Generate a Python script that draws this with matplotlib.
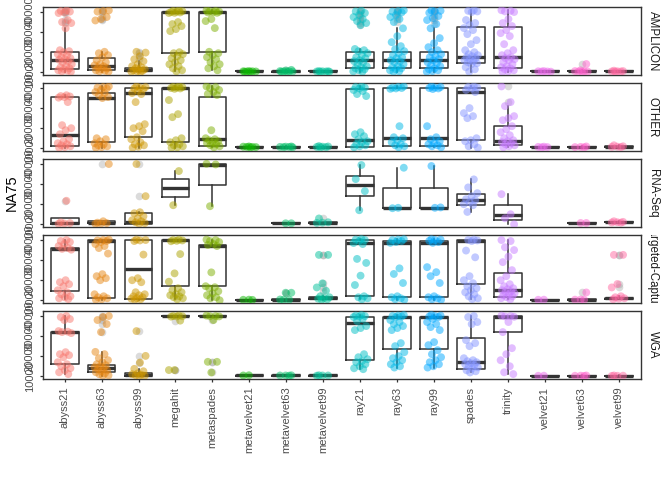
import numpy as np
import matplotlib
matplotlib.use('Agg')
import matplotlib.pyplot as plt

plt.rcParams['font.family'] = ['Liberation Sans', 'DejaVu Sans']

assemblers = ["abyss21", "abyss63", "abyss99", "megahit", "metaspades",
              "metavelvet21", "metavelvet63", "metavelvet99", "ray21", "ray63",
              "ray99", "spades", "trinity", "velvet21", "velvet63", "velvet99"]
facets = ["AMPLICON", "OTHER", "RNA-Seq", "Targeted-Capture", "WGA"]
colors = ["#F8766D", "#E68613", "#CD9600", "#ABA300", "#7CAE00", "#0CB702",
          "#00BE67", "#00C19A", "#00BFC4", "#00B8E7", "#00A9FF", "#8494FF",
          "#C77CFF", "#ED68ED", "#FF61CC", "#FF68A1"]

# NA75 values in thousands, one list per assembler
amplicon_pts = [
    [40.8, 40.5, 40.2, 39.8, 39.5, 36.0, 35.0, 34.5, 31.9, 21.0, 20.5, 20.0, 19.0, 18.5, 17.5, 17.0,
     16.5, 16.2, 15.5, 15.0, 14.0, 13.0, 12.5, 12.0, 11.5, 11.0, 10.8, 10.5, 10.3],
    [40.8, 40.5, 40.2, 37.5, 36.5, 35.8, 20.2, 19.5, 18.5, 17.5, 16.0, 15.0, 14.0, 13.5, 13.0, 12.5,
     12.0, 11.5, 11.0, 10.8, 10.5, 10.3],
    [20.2, 19.8, 18.0, 16.5, 15.5, 14.0, 13.0, 12.5, 12.0, 11.5, 11.2, 11.0, 10.8, 10.5, 10.3, 10.2],
    [40.8, 40.6, 40.4, 40.2, 40.0, 39.8, 39.6, 39.5, 35.0, 34.0, 33.0, 31.5, 30.5, 20.0, 19.5, 19.0,
     18.0, 17.0, 16.0, 15.0, 14.0, 13.0, 12.0, 11.0, 10.5],
    [40.8, 40.6, 40.4, 40.2, 40.0, 39.8, 39.6, 36.5, 35.5, 32.0, 20.2, 19.5, 18.5, 17.5, 16.5, 15.0,
     14.0, 13.0, 12.0, 11.0],
    [10.6, 10.5, 10.5, 10.4, 10.4, 10.3, 10.3],
    [11.2, 10.9, 10.6, 10.5, 10.4, 10.4, 10.3, 10.3],
    [10.6, 10.5, 10.5, 10.4, 10.4, 10.3, 10.3],
    [40.7, 40.3, 39.5, 38.5, 37.5, 36.5, 35.5, 34.5, 33.5, 21.6, 21.0, 20.5, 19.5, 18.5, 17.5, 17.0,
     16.0, 15.5, 15.0, 14.0, 13.0, 12.5, 12.0, 11.5, 11.0, 10.5, 10.3],
    [40.8, 40.5, 40.2, 39.8, 38.5, 37.5, 36.5, 35.0, 31.9, 28.0, 25.0, 23.0, 21.5, 20.5, 19.5, 18.5,
     17.5, 17.0, 16.0, 15.5, 15.0, 14.0, 13.0, 12.5, 12.0, 11.5, 11.0, 10.5, 10.3],
    [40.8, 40.6, 40.3, 39.6, 38.0, 37.0, 36.0, 34.0, 31.9, 27.0, 24.5, 22.5, 21.0, 20.0, 19.0, 18.0,
     17.5, 16.5, 16.0, 15.0, 14.5, 13.5, 13.0, 12.0, 11.5, 11.0, 10.6, 10.3],
    [40.9, 40.6, 40.3, 40.0, 36.0, 34.5, 33.5, 32.0, 31.0, 29.0, 26.0, 24.0, 21.0, 20.0, 19.0, 18.5,
     18.0, 17.5, 17.0, 16.5, 16.0, 15.5, 15.0, 14.5, 14.0, 12.5, 11.5, 10.3],
    [40.9, 40.6, 40.3, 40.0, 36.5, 34.5, 33.0, 31.0, 29.5, 28.0, 24.0, 21.0, 19.5, 18.5, 17.5, 17.0,
     16.5, 16.0, 15.0, 14.0, 13.0, 12.5, 12.0, 11.5, 11.0, 10.5, 10.3],
    [10.6, 10.5, 10.4, 10.4, 10.3],
    [14.1, 11.0, 10.6, 10.5, 10.4, 10.4, 10.3],
    [10.8, 10.6, 10.5, 10.4, 10.4, 10.3],
]
# (whisker low, q1, median, q3, whisker high)
amplicon_box = [
    (10.3, 11.5, 16.3, 20.3, 31.9), (10.3, 11.15, 13.1, 17.3, 20.2), (10.2, 10.5, 11.3, 12.3, 15.5),
    (10.5, 19.75, 39.9, 40.1, 40.8), (11.0, 20.25, 40.0, 40.2, 40.8), (10.3, 10.4, 10.45, 10.5, 10.6),
    (10.3, 10.35, 10.45, 10.55, 10.9), (10.3, 10.4, 10.45, 10.5, 10.6), (10.3, 12.0, 16.1, 20.25, 21.6),
    (10.3, 12.0, 16.1, 20.25, 31.9), (10.3, 12.0, 16.1, 20.25, 31.9), (10.3, 14.8, 17.5, 32.4, 40.9),
    (10.3, 12.3, 17.5, 32.4, 40.9), (10.3, 10.4, 10.45, 10.5, 10.6), (10.3, 10.4, 10.45, 10.55, 11.0),
    (10.3, 10.4, 10.45, 10.55, 10.8),
]

other_pts = [
    [36.4, 36.0, 35.8, 35.5, 35.2, 33.0, 21.5, 20.0, 19.0, 17.0, 14.5, 13.5, 12.5, 12.0, 11.5, 11.0,
     10.6, 10.3],
    [40.8, 40.5, 40.2, 39.8, 39.0, 38.0, 37.5, 36.5, 35.5, 35.0, 15.0, 14.5, 13.5, 12.5, 12.0, 11.5,
     11.0, 10.6, 10.3],
    [40.8, 40.5, 40.2, 39.8, 39.5, 38.5, 37.5, 37.0, 33.0, 22.0, 21.0, 20.0, 18.5, 15.5, 14.5, 13.0,
     12.0, 11.5, 10.8, 10.3],
    [40.8, 40.6, 40.4, 40.2, 40.0, 39.8, 39.6, 34.0, 27.0, 25.5, 15.0, 14.0, 13.0, 12.0, 11.5, 11.0,
     10.5, 10.3],
    [40.8, 40.5, 40.0, 39.0, 38.0, 37.0, 36.5, 19.0, 15.0, 14.5, 14.0, 13.5, 13.0, 12.5, 12.0, 11.5,
     11.0, 10.5],
    [10.9, 10.8, 10.7, 10.7, 10.6, 10.5],
    [10.9, 10.8, 10.7, 10.7, 10.6, 10.5],
    [11.1, 10.9, 10.8, 10.7, 10.6, 10.5],
    [40.8, 40.5, 40.2, 39.8, 39.0, 38.5, 37.0, 36.0, 18.0, 17.0, 16.0, 14.5, 13.5, 13.0, 12.0, 11.5,
     11.0, 10.5],
    [40.8, 40.5, 40.2, 40.0, 39.8, 39.6, 21.0, 15.5, 15.0, 14.0, 13.0, 12.0, 11.5, 11.0, 10.5],
    [40.8, 40.5, 40.2, 40.0, 39.8, 39.5, 21.0, 15.5, 14.5, 13.5, 12.5, 12.0, 11.5, 11.0, 10.5],
    [40.8, 40.5, 40.2, 39.8, 39.0, 38.0, 30.0, 27.5, 26.0, 25.0, 15.0, 14.0, 13.5, 12.0, 11.0, 10.3],
    [40.8, 33.0, 31.0, 26.0, 25.0, 24.0, 21.0, 19.5, 18.0, 16.5, 15.0, 14.0, 13.5, 13.0, 12.5, 12.0,
     11.5, 11.0, 10.5],
    [10.8, 10.7, 10.6, 10.5],
    [10.9, 10.7, 10.6, 10.5],
    [11.5, 11.0, 10.8, 10.7, 10.6],
]
other_box = [
    (10.3, 11.15, 16.8, 35.7, 36.4), (10.3, 13.3, 35.2, 37.7, 40.8), (10.3, 15.8, 37.7, 39.85, 40.8),
    (10.3, 13.3, 39.85, 40.1, 40.8), (10.5, 11.3, 14.8, 35.5, 40.8), (10.5, 10.6, 10.7, 10.8, 10.9),
    (10.5, 10.6, 10.7, 10.8, 10.9), (10.5, 10.6, 10.75, 10.85, 11.1), (10.5, 10.8, 14.1, 39.35, 40.8),
    (10.5, 11.3, 15.3, 40.0, 40.8), (10.5, 11.3, 15.3, 40.0, 40.8), (10.3, 14.1, 37.9, 40.0, 40.8),
    (10.5, 11.6, 13.8, 21.25, 31.0), (10.5, 10.55, 10.65, 10.75, 10.8), (10.5, 10.55, 10.65, 10.75, 10.9),
    (10.6, 10.7, 10.8, 11.0, 11.5),
]

rnaseq_pts = [
    [21.7, 11.0, 10.6, 10.4, 10.3],
    [40.0, 11.5, 10.8, 10.6, 10.4, 10.3],
    [40.0, 24.0, 16.0, 15.5, 14.0, 13.0, 12.0, 11.5, 11.0, 10.6, 10.3],
    [36.5, 19.5],
    [40.1, 39.8, 19.0],
    [],
    [10.5, 10.5],
    [12.9, 11.0, 10.8, 10.7],
    [39.5, 32.5, 26.5, 17.0],
    [38.15, 18.2, 18.0],
    [39.0, 18.4, 18.2],
    [32.35, 28.35, 25.5, 24.0, 22.5, 22.0, 21.0, 20.0, 19.5, 16.15],
    [25.0, 15.0, 13.0, 10.0],
    [],
    [10.65, 10.65],
    [11.5, 11.2, 11.0, 10.9, 10.8],
]
rnaseq_box = [
    (10.3, 10.3, 10.8, 13.3, 13.3), (10.3, 10.4, 10.7, 11.6, 11.6), (10.3, 10.35, 11.35, 15.65, 16.0),
    (19.5, 23.5, 28.15, 32.35, 36.5), (19.0, 29.5, 39.7, 40.0, 40.1), None,
    (10.45, 10.45, 10.5, 10.55, 10.55), (10.7, 10.75, 10.85, 11.0, 11.0), (17.0, 24.0, 29.5, 34.15, 39.5),
    (18.0, 18.15, 18.15, 28.15, 38.15), (18.2, 18.35, 18.35, 28.15, 39.0), (16.15, 19.5, 22.0, 25.0, 32.35),
    (10.0, 12.35, 14.85, 19.85, 25.0), None, (10.6, 10.6, 10.65, 10.7, 10.7),
    (10.8, 10.9, 11.0, 11.2, 11.5),
]

targeted_pts = [
    [40.0, 39.5, 39.0, 38.0, 37.0, 36.0, 35.6, 35.2, 20.0, 19.0, 18.0, 17.0, 15.0, 14.0, 13.0, 12.0,
     11.5, 11.0, 10.6],
    [40.2, 40.0, 39.8, 39.5, 39.0, 38.0, 37.0, 36.0, 33.25, 23.0, 22.0, 21.0, 20.0, 13.0, 12.0, 11.5,
     11.0, 10.5, 10.3],
    [40.2, 40.0, 39.8, 39.5, 32.75, 21.0, 20.0, 19.0, 14.0, 13.0, 12.5, 12.0, 11.5, 11.0, 10.8, 10.5,
     10.3],
    [40.2, 40.0, 39.8, 39.6, 39.4, 33.0, 23.4, 19.25, 16.0, 15.0, 14.0, 13.0, 12.5, 12.0, 11.5, 11.0,
     10.5],
    [40.2, 40.0, 39.5, 39.0, 38.0, 37.5, 37.0, 23.9, 17.0, 16.5, 16.0, 14.5, 13.5, 12.5, 11.5, 11.0,
     10.0],
    [10.3, 10.25, 10.2],
    [13.75, 13.75, 10.4, 10.3, 10.25],
    [32.6, 32.6, 18.4, 16.4, 14.75, 12.0, 11.5, 11.0, 10.8, 10.5, 10.3],
    [40.5, 40.2, 40.0, 39.5, 38.5, 38.0, 30.6, 28.6, 22.25, 17.6, 12.0, 11.5, 11.0, 10.5],
    [40.4, 40.2, 40.0, 39.5, 39.0, 38.6, 25.9, 23.1, 18.6, 12.0, 11.5, 11.0, 10.5, 10.3],
    [40.4, 40.2, 40.0, 39.6, 39.0, 38.6, 26.5, 24.0, 22.0, 18.6, 12.0, 11.5, 11.0, 10.5, 10.3],
    [40.2, 40.0, 39.8, 39.5, 34.75, 31.4, 22.0, 20.0, 18.5, 17.0, 16.0, 15.0, 14.0, 13.0, 12.0, 11.0,
     10.6],
    [40.0, 39.5, 36.4, 35.0, 31.75, 29.0, 25.0, 22.0, 20.0, 18.0, 17.0, 16.0, 15.5, 15.0, 14.5, 14.0,
     13.5, 13.0, 12.5, 12.0, 11.5, 11.0, 10.5],
    [10.3, 10.25],
    [13.9, 10.4, 10.3, 10.25],
    [32.6, 32.6, 18.1, 16.4, 12.0, 11.5, 11.0, 10.8, 10.5],
]
targeted_box = [
    (10.6, 14.75, 35.5, 35.9, 40.0), (10.3, 10.9, 39.4, 40.0, 40.2), (10.3, 10.6, 25.6, 40.0, 40.2),
    (10.5, 16.9, 39.8, 40.0, 40.2), (10.0, 16.9, 36.9, 37.6, 40.2), (10.2, 10.2, 10.25, 10.3, 10.3),
    (10.25, 10.25, 10.3, 10.4, 10.4), (10.3, 10.5, 10.9, 11.5, 12.0), (10.5, 11.9, 38.6, 40.0, 40.5),
    (10.3, 11.4, 38.6, 39.4, 40.4), (10.3, 11.4, 38.6, 39.4, 40.4), (10.6, 18.1, 39.75, 40.0, 40.2),
    (10.5, 11.75, 15.25, 23.6, 40.0), (10.25, 10.25, 10.25, 10.3, 10.3), (10.25, 10.25, 10.3, 10.4, 10.4),
    (10.5, 10.8, 10.9, 11.3, 12.0),
]

wga_pts = [
    [40.0, 39.5, 38.5, 38.0, 32.5, 32.2, 32.0, 31.5, 22.0, 21.0, 20.5, 19.5, 17.0, 16.0, 15.0, 14.0,
     13.0, 12.0, 11.1],
    [40.0, 39.5, 38.0, 36.0, 32.0, 22.15, 21.0, 19.0, 18.0, 17.0, 16.0, 15.5, 15.0, 14.5, 14.0, 13.5,
     13.0, 12.5, 12.0, 11.5, 11.0, 10.5, 10.3],
    [32.5, 20.15, 16.85, 13.7, 12.5, 11.5, 11.0, 10.8, 10.5, 10.3, 10.2],
    [40.2, 40.0, 39.9, 39.8, 39.7, 37.7, 13.1, 13.1],
    [40.2, 40.0, 39.9, 39.8, 38.0, 17.2, 17.2, 11.9],
    [10.5, 10.4],
    [10.5, 10.4, 10.4, 10.3],
    [10.5, 10.4, 10.4, 10.3],
    [40.5, 40.2, 40.0, 39.8, 39.5, 38.5, 37.5, 35.0, 34.0, 33.0, 21.0, 19.5, 18.5, 17.5, 17.0, 16.0,
     15.0, 14.0, 13.55],
    [40.5, 40.2, 40.0, 39.8, 39.5, 38.0, 37.0, 36.0, 35.0, 34.0, 33.0, 26.5, 25.0, 22.0, 20.0, 19.0,
     18.0, 17.0, 16.0, 15.0, 14.35],
    [40.5, 40.2, 40.0, 39.8, 39.5, 38.5, 37.0, 36.0, 34.5, 33.0, 27.0, 25.5, 23.0, 21.0, 19.5, 18.0,
     17.0, 16.0, 15.0, 14.35],
    [40.0, 39.5, 37.0, 36.0, 28.0, 26.5, 25.0, 19.0, 18.0, 17.5, 17.0, 16.5, 16.0, 15.5, 15.0, 14.5,
     14.0, 13.0, 12.5, 11.9],
    [40.2, 40.0, 39.8, 39.6, 37.0, 32.0, 24.0, 21.0, 18.0, 15.0, 12.0, 11.1],
    [10.3, 10.25],
    [10.4, 10.3, 10.25, 10.2],
    [10.4, 10.3, 10.25, 10.2],
]
wga_box = [
    (11.1, 16.0, 32.0, 32.2, 40.0), (10.3, 12.2, 14.05, 15.7, 22.15), (10.2, 10.2, 10.7, 11.6, 13.7),
    (39.7, 39.8, 39.85, 39.95, 40.2), (39.8, 39.8, 39.85, 39.95, 40.2), (10.35, 10.35, 10.4, 10.45, 10.5),
    (10.3, 10.35, 10.4, 10.45, 10.5), (10.3, 10.35, 10.4, 10.45, 10.5), (13.55, 18.05, 36.4, 39.65, 40.5),
    (14.35, 23.8, 39.5, 39.65, 40.5), (14.35, 23.8, 39.5, 39.65, 40.5), (11.9, 13.85, 17.35, 29.25, 40.0),
    (11.1, 32.2, 39.65, 40.0, 40.2), (10.25, 10.25, 10.25, 10.3, 10.3), (10.2, 10.2, 10.25, 10.3, 10.4),
    (10.2, 10.2, 10.25, 10.3, 10.4),
]

y_ticks = [10, 20, 30, 40]
panel_points = [amplicon_pts, other_pts, rnaseq_pts, targeted_pts, wga_pts]
panel_boxes = [amplicon_box, other_box, rnaseq_box, targeted_box, wga_box]

W, H = 672, 480
fig = plt.figure(figsize=(W / 100, H / 100), dpi=100, facecolor='white')

panel_left, panel_right = 42.5, 641.0
panel_tops = [7, 83, 159, 235, 311]
panel_h = 68
dark = '#333333'
positions = np.arange(1, len(assemblers) + 1)

for p, (pts, boxes) in enumerate(zip(panel_points, panel_boxes)):
    top = panel_tops[p]
    ax = fig.add_axes([panel_left / W, 1 - (top + panel_h) / H,
                       (panel_right - panel_left) / W, panel_h / H])
    ax.set_xlim(0.4, len(assemblers) + 0.6)
    ax.set_ylim(8.65, 42.5)

    # boxplots (outliers drawn as faint grey dots at the box centre)
    stats, pos = [], []
    for k, b in enumerate(boxes):
        if b is None:
            continue
        lo, q1, med, q3, hi = b
        fliers = [v for v in pts[k] if v < lo or v > hi]
        stats.append(dict(whislo=lo, q1=q1, med=med, q3=q3, whishi=hi, fliers=fliers))
        pos.append(positions[k])
    ax.bxp(stats, positions=pos, widths=0.75, showcaps=False, showfliers=True,
           boxprops=dict(color=dark, linewidth=1.1),
           whiskerprops=dict(color=dark, linewidth=1.1),
           medianprops=dict(color=dark, linewidth=2.4, solid_capstyle='butt'),
           flierprops=dict(marker='o', markerfacecolor='#9a9a9a', markeredgecolor='none',
                           markersize=5.5, alpha=0.35))

    # jittered points
    for k, vals in enumerate(pts):
        if not vals:
            continue
        n = len(vals)
        offs = (((np.arange(n) + 1) * 0.618034 + k * 0.37) % 1.0 - 0.5) * 0.4
        ax.scatter(positions[k] + offs, vals, s=32, color=colors[k], alpha=0.5,
                   edgecolors='none', zorder=3)

    for sp in ax.spines.values():
        sp.set_color(dark)
        sp.set_linewidth(1.0)
    ax.set_yticks(y_ticks)
    ax.set_yticklabels([str(t * 1000) for t in y_ticks])
    ax.tick_params(axis='y', length=2.5, width=0.9, color=dark, pad=3,
                   labelsize=8, labelcolor='#4D4D4D')
    for lab in ax.get_yticklabels():
        lab.set_rotation(90)
        lab.set_va('center')
        lab.set_ha('right')
    ax.set_xticks(positions)
    if p == len(facets) - 1:
        ax.set_xticklabels(assemblers, rotation=90, ha='center', va='top')
        ax.tick_params(axis='x', length=2.5, width=0.9, color=dark, pad=3,
                       labelsize=8, labelcolor='#4D4D4D')
    else:
        ax.tick_params(axis='x', length=0, labelbottom=False)

    # strip on the right, label clipped to the strip like ggplot does
    sax = fig.add_axes([643.5 / W, 1 - (top + panel_h) / H, 18 / W, panel_h / H])
    sax.set_axis_off()
    st = sax.text(0.5, 0.5, facets[p], rotation=-90, ha='center', va='center',
                  fontsize=8.3, color='#1A1A1A', transform=sax.transAxes)
    st.set_clip_on(True)
    st.set_clip_box(sax.bbox)

fig.text(12 / W, 1 - 192.5 / H, "NA75", rotation=90, ha='center', va='center',
         fontsize=10.5, color='black')

fig.savefig("out.png", dpi=100, facecolor='white')
